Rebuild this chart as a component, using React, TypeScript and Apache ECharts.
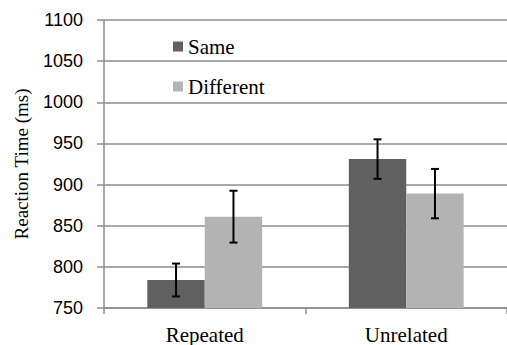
import React, { useEffect, useRef } from "react";
import * as echarts from "echarts";

const categories = ["Repeated", "Unrelated"];
const seriesNames = ["Same", "Different"];
const sameValues = [784, 931];
const differentValues = [861, 889];
const sameErrors = [20, 24];
const differentErrors = [31.5, 30];
const yTicks = [750, 800, 850, 900, 950, 1000, 1050, 1100];

const COLORS = ["#606060", "#b3b3b3"];

function errorSeries(values: number[], errors: number[], offset: number) {
  const data = values.map((v, i) => [i, v - errors[i], v + errors[i]]);
  return {
    type: "custom",
    silent: true,
    z: 10,
    renderItem: (params: any, api: any) => {
      const idx = api.value(0);
      const lo = api.coord([idx, api.value(1)]);
      const hi = api.coord([idx, api.value(2)]);
      const bandW = api.size([1, 0])[0];
      const barW = bandW * 0.285;
      const x = lo[0] + offset * barW;
      const cap = 4;
      const style = { stroke: "#000", lineWidth: 2 };
      return {
        type: "group",
        children: [
          { type: "line", shape: { x1: x, y1: lo[1], x2: x, y2: hi[1] }, style },
          { type: "line", shape: { x1: x - cap, y1: lo[1], x2: x + cap, y2: lo[1] }, style },
          { type: "line", shape: { x1: x - cap, y1: hi[1], x2: x + cap, y2: hi[1] }, style },
        ],
      };
    },
    data,
  };
}

export default function App() {
  const ref = useRef<HTMLDivElement>(null);
  useEffect(() => {
    if (!ref.current) return;
    const chart = echarts.init(ref.current, null, { renderer: "svg" });
    chart.setOption({
      animation: false,
      grid: { left: 104, right: 0, top: 20, bottom: 33 },
      legend: {
        orient: "vertical",
        left: 168,
        top: 31,
        itemWidth: 10,
        itemHeight: 10,
        itemGap: 19,
        icon: "rect",
        data: seriesNames,
        textStyle: { fontFamily: "Liberation Serif", fontSize: 21, color: "#000" },
      },
      xAxis: {
        type: "category",
        data: categories,
        axisLine: { lineStyle: { color: "#8c8c8c", width: 1.5 } },
        axisTick: { show: true, length: 6, lineStyle: { color: "#8c8c8c", width: 1.5 } },
        axisLabel: { fontFamily: "Liberation Serif", fontSize: 21, color: "#000", margin: 16 },
      },
      yAxis: {
        type: "value",
        min: 750,
        max: 1100,
        interval: 50,
        name: "Reaction Time (ms)",
        nameLocation: "middle",
        nameGap: 73,
        nameTextStyle: { fontFamily: "Liberation Serif", fontSize: 19, color: "#000" },
        axisLine: { show: true, lineStyle: { color: "#8c8c8c", width: 1.5 } },
        axisTick: { show: true, length: 7, lineStyle: { color: "#8c8c8c", width: 1.5 } },
        axisLabel: {
          fontFamily: "Liberation Sans",
          fontSize: 18,
          color: "#000",
          margin: 21,
          formatter: (v: number) => (yTicks.includes(v) ? String(v) : ""),
        },
        splitLine: { lineStyle: { color: "#8c8c8c", width: 1.5 } },
      },
      series: [
        {
          name: "Same",
          type: "bar",
          data: sameValues,
          itemStyle: { color: COLORS[0] },
          barGap: "0%",
          barCategoryGap: "43%",
        },
        {
          name: "Different",
          type: "bar",
          data: differentValues,
          itemStyle: { color: COLORS[1] },
          barGap: "0%",
          barCategoryGap: "43%",
        },
        errorSeries(sameValues, sameErrors, -0.5),
        errorSeries(differentValues, differentErrors, 0.5),
      ],
    });
    return () => chart.dispose();
  }, []);
  return <div ref={ref} style={{ width: 507, height: 345, position: "absolute", left: 0, top: 0 }} />;
}
